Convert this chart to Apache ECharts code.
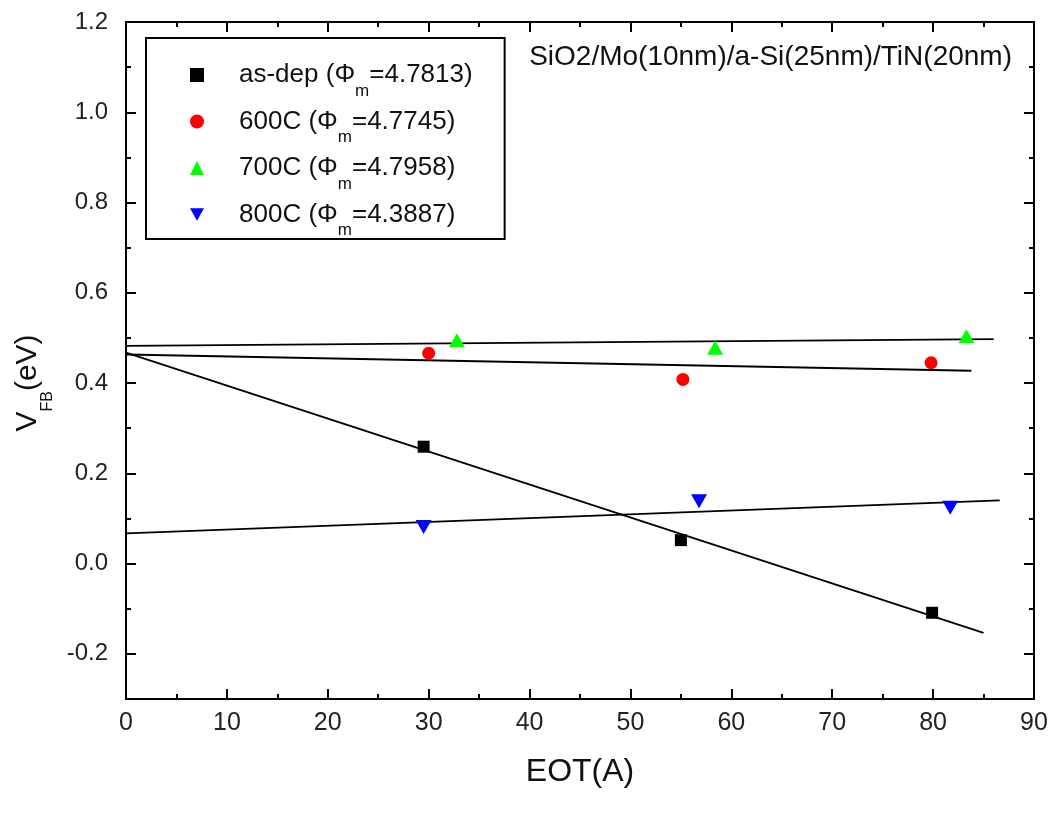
<!DOCTYPE html>
<html><head><meta charset="utf-8">
<script src="https://cdn.jsdelivr.net/npm/echarts@6/dist/echarts.min.js"></script>
<style>html,body{margin:0;padding:0;background:#fff}#c{width:1052px;height:830px}</style>
</head><body><div id="c"></div>
<script>
// ---- data ----
const seriesNames = ['as-dep', '600C', '700C', '800C'];
const phiValues = ['4.7813', '4.7745', '4.7958', '4.3887'];
const asDepX = [29.5, 55.0, 79.9];
const asDepY = [0.259, 0.052, -0.109];
const c600X = [30.0, 55.2, 79.8];
const c600Y = [0.466, 0.408, 0.445];
const c700X = [32.8, 58.4, 83.3];
const c700Y = [0.495, 0.478, 0.504];
const c800X = [29.5, 56.8, 81.7];
const c800Y = [0.081, 0.138, 0.124];
const fitStartX = [0, 0, 0, 0];
const fitEndX = [85.0, 83.8, 86.0, 86.6];
const xTickValues = [0, 10, 20, 30, 40, 50, 60, 70, 80, 90];
const yTickValues = [-0.2, 0.0, 0.2, 0.4, 0.6, 0.8, 1.0, 1.2];
const annotation = 'SiO2/Mo(10nm)/a-Si(25nm)/TiN(20nm)';
const xTitle = 'EOT(A)';

// ---- helpers ----
const xs = [asDepX, c600X, c700X, c800X];
const ys = [asDepY, c600Y, c700Y, c800Y];
function zip(a, b) { return a.map((v, i) => [v, b[i]]); }
function linFit(x, y) {
  const n = x.length;
  const mx = x.reduce((s, v) => s + v, 0) / n;
  const my = y.reduce((s, v) => s + v, 0) / n;
  let sxy = 0, sxx = 0;
  for (let i = 0; i < n; i++) { sxy += (x[i] - mx) * (y[i] - my); sxx += (x[i] - mx) * (x[i] - mx); }
  const k = sxy / sxx;
  return { k: k, b: my - k * mx };
}

const colors = ['#000000', '#ff0000', '#00ff00', '#0000ff'];
const symbols = ['rect', 'circle', 'triangle', 'path://M0,0 L10,0 L5,9 Z'];
const symbolSizes = [12, 13, [16, 14], [16, 14]];

const series = [];
for (let i = 0; i < 4; i++) {
  const f = linFit(xs[i], ys[i]);
  series.push({
    name: seriesNames[i] + ' fit', type: 'line', silent: true, showSymbol: false,
    xAxisIndex: 0, yAxisIndex: 0, z: 2,
    lineStyle: { color: '#000', width: 1.8 },
    data: [[fitStartX[i], f.b + f.k * fitStartX[i]], [fitEndX[i], f.b + f.k * fitEndX[i]]]
  });
}
for (let i = 0; i < 4; i++) {
  series.push({
    name: seriesNames[i], type: 'scatter', xAxisIndex: 0, yAxisIndex: 0, z: 3,
    symbol: symbols[i], symbolSize: symbolSizes[i],
    itemStyle: { color: colors[i], opacity: 1 },
    data: zip(xs[i], ys[i])
  });
}

const tickFont = 'Liberation Sans, Arial, sans-serif';
const axisLineStyle = { color: '#000', width: 2 };

function xAxisDef(pos, labels) {
  return {
    type: 'value', position: pos, min: 0, max: 90, interval: 10,
    axisLine: { show: true, onZero: false, lineStyle: axisLineStyle },
    axisTick: { show: true, inside: true, length: 10, lineStyle: { color: '#000', width: 2 } },
    minorTick: { show: true, splitNumber: 2, length: 5, lineStyle: { color: '#000', width: 2 } },
    axisLabel: { show: labels, fontFamily: tickFont, fontSize: 25, color: '#222', margin: 12 },
    splitLine: { show: false },
    name: labels ? xTitle : '', nameLocation: 'middle', nameGap: 57,
    nameTextStyle: { fontFamily: tickFont, fontSize: 32, color: '#111' }
  };
}
function yMajorDef(pos, labels) {
  return {
    type: 'value', position: pos, min: -0.3, max: 1.2,
    axisLine: { show: true, onZero: false, lineStyle: axisLineStyle },
    axisTick: { show: true, inside: true, length: 10, customValues: yTickValues, lineStyle: { color: '#000', width: 2 } },
    axisLabel: { show: labels, customValues: yTickValues, formatter: v => v.toFixed(1),
      fontFamily: tickFont, fontSize: 24, color: '#222', margin: 18 },
    splitLine: { show: false }
  };
}
function yMinorDef(pos) {
  return {
    type: 'value', position: pos, min: -0.3, max: 1.2, interval: 0.1,
    axisLine: { show: false, onZero: false },
    axisTick: { show: true, inside: true, length: 5, lineStyle: { color: '#000', width: 2 } },
    axisLabel: { show: false }, splitLine: { show: false }
  };
}

const chart = echarts.init(document.getElementById('c'), null, { renderer: 'canvas' });
chart.setOption({
  animation: false,
  backgroundColor: '#fff',
  grid: { left: 126, right: 18, top: 22, bottom: 131, containLabel: false },
  xAxis: [xAxisDef('bottom', true), xAxisDef('top', false)],
  yAxis: [yMajorDef('left', true), yMinorDef('left'), yMajorDef('right', false), yMinorDef('right')],
  legend: {
    data: seriesNames, orient: 'vertical', left: 146, top: 38,
    padding: [24, 32, 0, 44], itemGap: 9,
    itemWidth: 14, itemHeight: 14,
    borderColor: '#000', borderWidth: 2, backgroundColor: '#fff',
    formatter: function (name) {
      const i = seriesNames.indexOf(name);
      return '{f|' + name + ' (\u03A6}{s|m}{n|=' + phiValues[i] + ')}';
    },
    textStyle: {
      color: '#111',
      rich: {
        f: { fontFamily: tickFont, fontSize: 26, color: '#111', verticalAlign: 'middle', padding: [0, 0, 0, 30] },
        n: { fontFamily: tickFont, fontSize: 26, color: '#111', verticalAlign: 'middle' },
        s: { fontFamily: tickFont, fontSize: 17, color: '#111', verticalAlign: 'middle', padding: [32, 0, 0, 0] }
      }
    }
  },
  graphic: [
    {
      type: 'text', x: 1012, y: 57, silent: true,
      style: { text: annotation, fontFamily: tickFont, fontSize: 28, fill: '#111', align: 'right', verticalAlign: 'middle' }
    },
    {
      type: 'text', x: 28, y: 383, rotation: Math.PI / 2, silent: true,
      style: {
        text: '{v|V}{s|FB}{v|(eV)}', align: 'center', verticalAlign: 'middle',
        rich: {
          v: { fontFamily: tickFont, fontSize: 30, fill: '#111', verticalAlign: 'middle' },
          s: { fontFamily: tickFont, fontSize: 16, fill: '#111', verticalAlign: 'middle', padding: [40, 0, 0, 0] }
        }
      }
    }
  ],
  series: series
});
</script>
</body></html>
